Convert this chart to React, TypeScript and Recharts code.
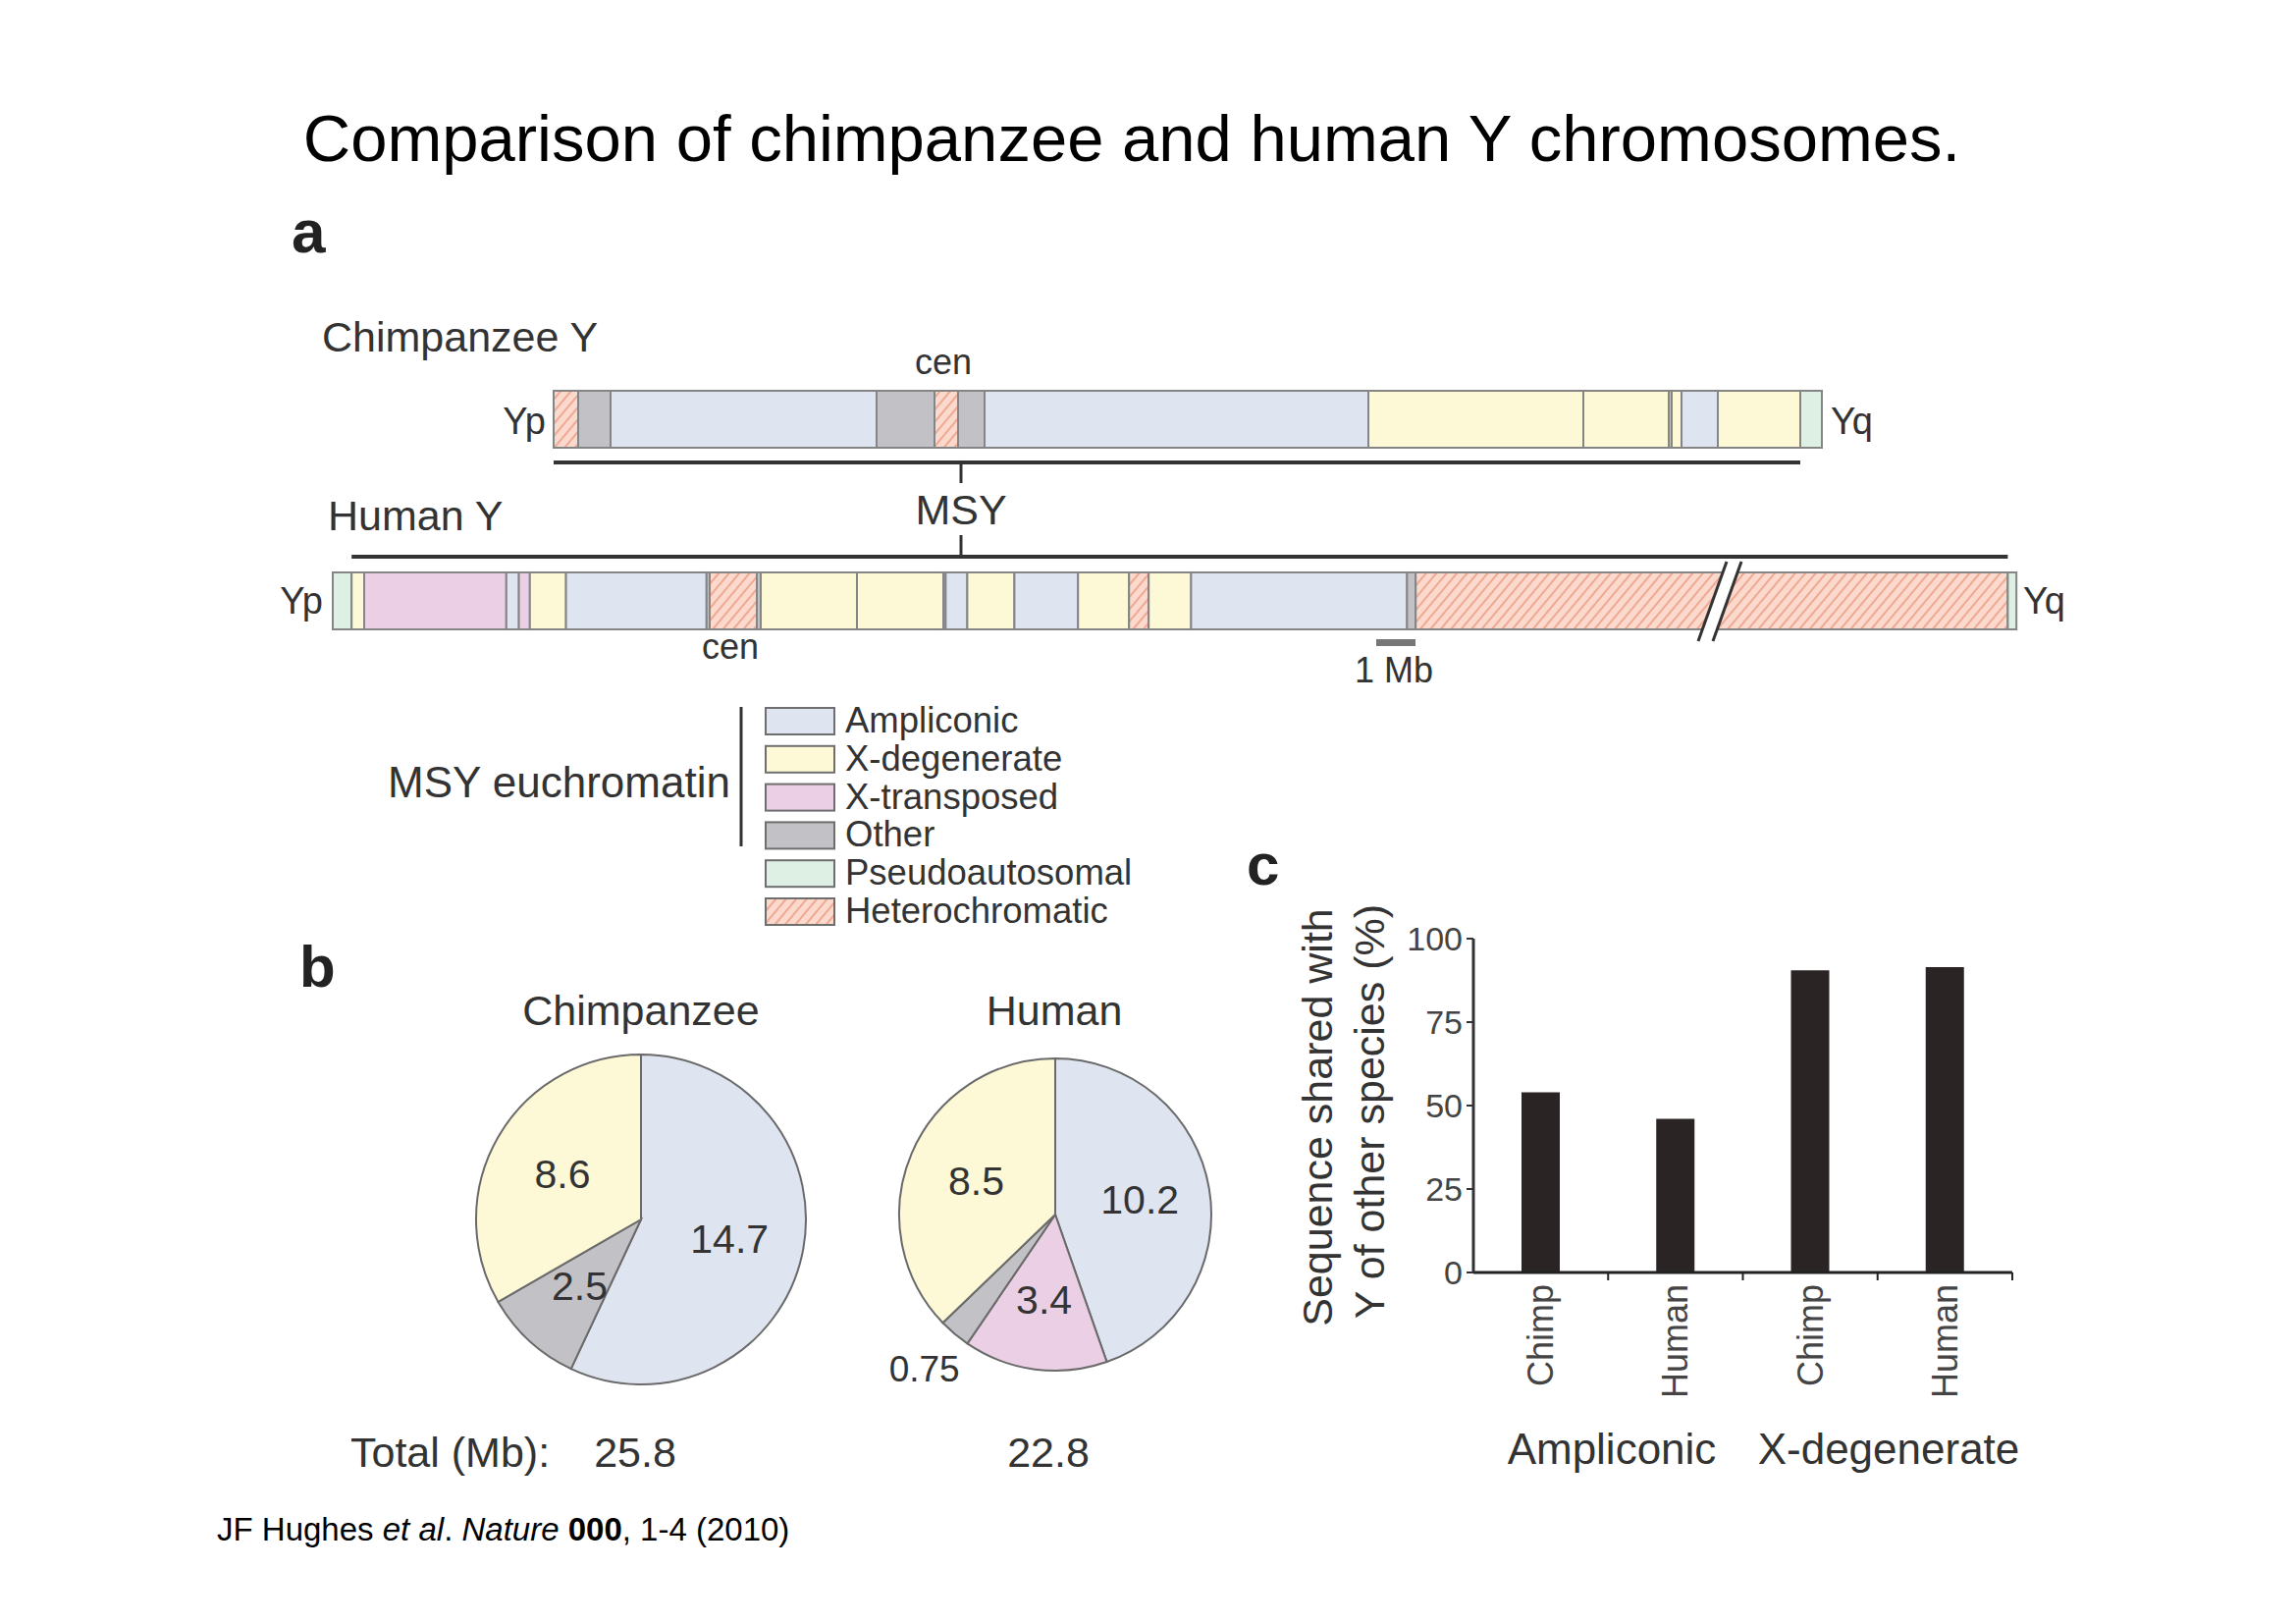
import React from 'react';
import { BarChart, Bar, XAxis, YAxis, PieChart, Pie, Cell } from 'recharts';

const FONT = '"Liberation Sans", Arial, Helvetica, sans-serif';
const PX_PER_MB = 40;
const RAD = Math.PI / 180;

// ---- legend / segment types ----
const segmentTypes = ['Ampliconic', 'X-degenerate', 'X-transposed', 'Other', 'Pseudoautosomal', 'Heterochromatic'];
const segmentFills = ['#dfe4f1', '#fdf8d5', '#ebcfe4', '#c2c2c6', '#def0e4', 'url(#hatch)'];

// ---- panel a: chromosome segments (Mb) ----
const chimpSegTypes = ['Heterochromatic', 'Other', 'Ampliconic', 'Other', 'Heterochromatic', 'Other', 'Ampliconic', 'X-degenerate', 'X-degenerate', 'Other', 'X-degenerate', 'Ampliconic', 'X-degenerate', 'Pseudoautosomal'];
const chimpSegMb = [0.625, 0.825, 6.775, 1.475, 0.6, 0.675, 9.775, 5.475, 2.175, 0.075, 0.25, 0.925, 2.1, 0.55];

const humanSegTypes = ['Pseudoautosomal', 'X-degenerate', 'X-transposed', 'Ampliconic', 'X-transposed', 'X-degenerate', 'Ampliconic', 'Other', 'Heterochromatic', 'Other', 'X-degenerate', 'X-degenerate', 'Other', 'Ampliconic', 'X-degenerate', 'Ampliconic', 'X-degenerate', 'Heterochromatic', 'X-degenerate', 'Ampliconic', 'Other', 'Heterochromatic', 'Pseudoautosomal'];
const humanSegMb = [0.48, 0.32, 3.62, 0.32, 0.28, 0.92, 3.58, 0.08, 1.2, 0.1, 2.45, 2.2, 0.06, 0.55, 1.2, 1.62, 1.3, 0.5, 1.08, 5.5, 0.22, 15.08, 0.22];

// ---- panel b: pies (Mb) ----
const chimpPieNames = ['Ampliconic', 'Other', 'X-degenerate'];
const chimpPieMb = [14.7, 2.5, 8.6];
const humanPieNames = ['Ampliconic', 'X-transposed', 'Other', 'X-degenerate'];
const humanPieMb = [10.2, 3.4, 0.75, 8.5];
const pieTotals = ['25.8', '22.8'];

// ---- panel c: shared sequence (%) ----
const sharedLabels = ['Chimp', 'Human', 'Chimp', 'Human'];
const sharedGroups = ['Ampliconic', 'Ampliconic', 'X-degenerate', 'X-degenerate'];
const sharedValues = [54, 46, 90.5, 91.5];
const sharedTicks = [0, 25, 50, 75, 100];

const fillOf = (t: string) => segmentFills[segmentTypes.indexOf(t)];
const sum = (a: number[]) => a.reduce((x, y) => x + y, 0);

const CHIMP_X = 564;
const HUMAN_X = 339;

function Chromosome({ types, lengths, left, top, height }: { types: string[]; lengths: number[]; left: number; top: number; height: number }) {
  const row: Record<string, number | string> = { name: 'y' };
  lengths.forEach((v, i) => {
    row['s' + i] = v;
  });
  const total = sum(lengths);
  const width = total * PX_PER_MB;
  const pad = 3;
  return (
    <div style={{ position: 'absolute', left: left - pad, top: top - pad }}>
      <BarChart
        width={width + 2 * pad}
        height={height + 2 * pad}
        data={[row]}
        layout="vertical"
        margin={{ top: pad, right: pad, bottom: pad, left: pad }}
        barCategoryGap={0}
        barGap={0}
      >
        <XAxis type="number" domain={[0, total]} hide />
        <YAxis type="category" dataKey="name" hide />
        {lengths.map((_, i) => (
          <Bar
            key={i}
            dataKey={'s' + i}
            stackId="c"
            fill={fillOf(types[i])}
            stroke="#858585"
            strokeWidth={2}
            isAnimationActive={false}
          />
        ))}
      </BarChart>
    </div>
  );
}

const renderPieLabel = (props: any) => {
  const { cx, cy, midAngle, outerRadius, value } = props;
  const ratio = value < 1 ? 1.3 : 0.55;
  const r = outerRadius * ratio;
  const x = cx + r * Math.cos(-midAngle * RAD);
  const y = cy + r * Math.sin(-midAngle * RAD);
  return (
    <text x={x} y={y} textAnchor="middle" dominantBaseline="central" fontFamily={FONT} fontSize={value < 1 ? 37 : 41} fill="#333">
      {String(value)}
    </text>
  );
};

function MsyPie({ names, values, left, top, r }: { names: string[]; values: number[]; left: number; top: number; r: number }) {
  const data = names.map((n, i) => ({ name: n, value: values[i] }));
  const size = 440;
  return (
    <div style={{ position: 'absolute', left: left - size / 2, top: top - size / 2 }}>
      <PieChart width={size} height={size} margin={{ top: 0, right: 0, bottom: 0, left: 0 }}>
        <Pie
          data={data}
          dataKey="value"
          nameKey="name"
          cx={size / 2}
          cy={size / 2}
          outerRadius={r}
          startAngle={90}
          endAngle={-270}
          stroke="#6a6a6a"
          strokeWidth={2}
          label={renderPieLabel}
          labelLine={false}
          isAnimationActive={false}
        >
          {data.map((d, i) => (
            <Cell key={i} fill={fillOf(d.name)} />
          ))}
        </Pie>
      </PieChart>
    </div>
  );
}

const C_LEFT = 1300;
const C_TOP = 900;
const C_W = 800;
const C_H = 620;
const C_YAXIS_W = 60;
const C_MARGIN = { top: 56, right: 50, left: 141, bottom: 44 };
const C_XAXIS_H = 180;
const C_AXIS_Y = C_H - C_MARGIN.bottom - C_XAXIS_H;
const C_BAND = (C_W - C_MARGIN.left - C_YAXIS_W - C_MARGIN.right) / sharedLabels.length;

const SharedTick = (props: any) => {
  const { x, payload } = props;
  const idx = payload.index;
  return (
    <g>
      <line x1={x + C_BAND / 2} x2={x + C_BAND / 2} y1={C_AXIS_Y} y2={C_AXIS_Y + 8} stroke="#222" strokeWidth={2} />
      <text
        x={x}
        y={C_AXIS_Y + 12}
        transform={`rotate(-90 ${x} ${C_AXIS_Y + 12})`}
        textAnchor="end"
        dominantBaseline="central"
        fontFamily={FONT}
        fontSize={36}
        fill="#444"
      >
        {sharedLabels[idx]}
      </text>
    </g>
  );
};

function SharedChart() {
  const data = sharedLabels.map((l, i) => ({ id: l + '-' + sharedGroups[i], value: sharedValues[i] }));
  return (
    <div style={{ position: 'absolute', left: C_LEFT, top: C_TOP }}>
      <BarChart width={C_W} height={C_H} data={data} margin={C_MARGIN} barCategoryGap={0}>
        <XAxis
          dataKey="id"
          height={C_XAXIS_H}
          axisLine={{ stroke: '#222', strokeWidth: 3 }}
          tickLine={false}
          tick={<SharedTick />}
          interval={0}
        />
        <YAxis
          type="number"
          domain={[0, 100]}
          ticks={sharedTicks}
          width={C_YAXIS_W}
          axisLine={{ stroke: '#333', strokeWidth: 3 }}
          tickLine={{ stroke: '#333', strokeWidth: 2 }}
          tickSize={7}
          tickMargin={4}
          tick={{ fontSize: 34, fill: '#444', fontFamily: FONT }}
        />
        <Bar dataKey="value" fill="#2a2424" barSize={39} isAnimationActive={false} />
      </BarChart>
    </div>
  );
}

export default function App() {
  const txt = { fontFamily: FONT, fill: '#333' } as const;
  const chimpMsyEnd = CHIMP_X + (sum(chimpSegMb) - chimpSegMb[chimpSegMb.length - 1]) * PX_PER_MB;
  const humanMsyStart = HUMAN_X + humanSegMb[0] * PX_PER_MB;
  const humanMsyEnd = HUMAN_X + (sum(humanSegMb) - humanSegMb[humanSegMb.length - 1]) * PX_PER_MB;
  return (
    <div style={{ position: 'absolute', left: 0, top: 0, width: 2339, height: 1653, background: '#fff', overflow: 'hidden' }}>
      <svg width="0" height="0" style={{ position: 'absolute' }}>
        <defs>
          <pattern id="hatch" width="8" height="8" patternUnits="userSpaceOnUse" patternTransform="rotate(40)">
            <rect width="8" height="8" fill="#fbd9cc" />
            <line x1="2" y1="0" x2="2" y2="8" stroke="#eea38d" strokeWidth="1.8" />
          </pattern>
        </defs>
      </svg>

      <Chromosome types={chimpSegTypes} lengths={chimpSegMb} left={CHIMP_X} top={398} height={58} />
      <Chromosome types={humanSegTypes} lengths={humanSegMb} left={HUMAN_X} top={583} height={58} />
      <MsyPie names={chimpPieNames} values={chimpPieMb} left={653} top={1242} r={168} />
      <MsyPie names={humanPieNames} values={humanPieMb} left={1075} top={1237} r={159} />
      <SharedChart />

      <svg width={2339} height={1653} style={{ position: 'absolute', left: 0, top: 0, pointerEvents: 'none' }}>
        {/* title */}
        <text x={1153} y={164} textAnchor="middle" fontFamily={FONT} fontSize={67} fill="#000">
          Comparison of chimpanzee and human Y chromosomes.
        </text>

        {/* panel letters */}
        <text x={297} y={257} fontFamily={FONT} fontSize={62} fontWeight="bold" fill="#222">a</text>
        <text x={305} y={1005} fontFamily={FONT} fontSize={60} fontWeight="bold" fill="#222">b</text>
        <text x={1270} y={901} fontFamily={FONT} fontSize={60} fontWeight="bold" fill="#222">c</text>

        {/* panel a labels */}
        <text x={328} y={358} fontSize={43} {...txt}>Chimpanzee Y</text>
        <text x={334} y={540} fontSize={43} {...txt}>Human Y</text>
        <text x={979} y={534} textAnchor="middle" fontSize={43} {...txt}>MSY</text>
        <text x={961} y={381} textAnchor="middle" fontSize={36} {...txt}>cen</text>
        <text x={744} y={671} textAnchor="middle" fontSize={36} {...txt}>cen</text>
        <text x={556} y={442} textAnchor="end" fontSize={38} {...txt}>Yp</text>
        <text x={1865} y={442} fontSize={38} {...txt}>Yq</text>
        <text x={329} y={625} textAnchor="end" fontSize={38} {...txt}>Yp</text>
        <text x={2061} y={625} fontSize={38} {...txt}>Yq</text>

        {/* MSY lines */}
        <line x1={CHIMP_X} x2={chimpMsyEnd} y1={471} y2={471} stroke="#333" strokeWidth={4} />
        <line x1={979} x2={979} y1={471} y2={492} stroke="#333" strokeWidth={3} />
        <line x1={979} x2={979} y1={545} y2={567} stroke="#333" strokeWidth={3} />
        <line x1={humanMsyStart} x2={humanMsyEnd} y1={567} y2={567} stroke="#333" strokeWidth={4} />

        {/* break marks */}
        <polygon points="1730,653 1759,572 1774,572 1745,653" fill="#fff" />
        <line x1={1730} y1={653} x2={1759} y2={572} stroke="#333" strokeWidth={3} />
        <line x1={1745} y1={653} x2={1774} y2={572} stroke="#333" strokeWidth={3} />

        {/* scale bar */}
        <rect x={1402} y={651} width={PX_PER_MB} height={7} fill="#777" />
        <text x={1420} y={695} textAnchor="middle" fontSize={36} {...txt}>1 Mb</text>

        {/* legend */}
        <text x={395} y={812} fontSize={44} {...txt}>MSY euchromatin</text>
        <line x1={755} x2={755} y1={720} y2={862} stroke="#333" strokeWidth={3} />
        {segmentTypes.map((t, i) => (
          <g key={t}>
            <rect x={780} y={721 + i * 38.8} width={70} height={27} fill={segmentFills[i]} stroke="#6e6e6e" strokeWidth={2} />
            <text x={861} y={746 + i * 38.8} fontSize={36.5} {...txt}>{t}</text>
          </g>
        ))}

        {/* panel b labels */}
        <text x={653} y={1044} textAnchor="middle" fontSize={43} {...txt}>Chimpanzee</text>
        <text x={1074} y={1044} textAnchor="middle" fontSize={43} {...txt}>Human</text>
        <text x={357} y={1494} fontSize={43} {...txt}>Total (Mb):</text>
        <text x={647} y={1494} textAnchor="middle" fontSize={43} {...txt}>{pieTotals[0]}</text>
        <text x={1068} y={1494} textAnchor="middle" fontSize={43} {...txt}>{pieTotals[1]}</text>

        {/* panel c labels */}
        <text x={1342} y={1138} transform="rotate(-90 1342 1138)" textAnchor="middle" dominantBaseline="central" fontSize={43} {...txt}>
          Sequence shared with
        </text>
        <text x={1395} y={1132} transform="rotate(-90 1395 1132)" textAnchor="middle" dominantBaseline="central" fontSize={43} {...txt}>
          Y of other species (%)
        </text>
        <text x={1642} y={1491} textAnchor="middle" fontSize={44} {...txt}>{sharedGroups[0]}</text>
        <text x={1924} y={1491} textAnchor="middle" fontSize={44} {...txt}>{sharedGroups[2]}</text>

        {/* footer */}
        <text x={221} y={1569} fontFamily={FONT} fontSize={33} fill="#000">
          JF Hughes <tspan fontStyle="italic">et al</tspan>. <tspan fontStyle="italic">Nature</tspan> <tspan fontWeight="bold">000</tspan>, 1-4 (2010)
        </text>
      </svg>
    </div>
  );
}
